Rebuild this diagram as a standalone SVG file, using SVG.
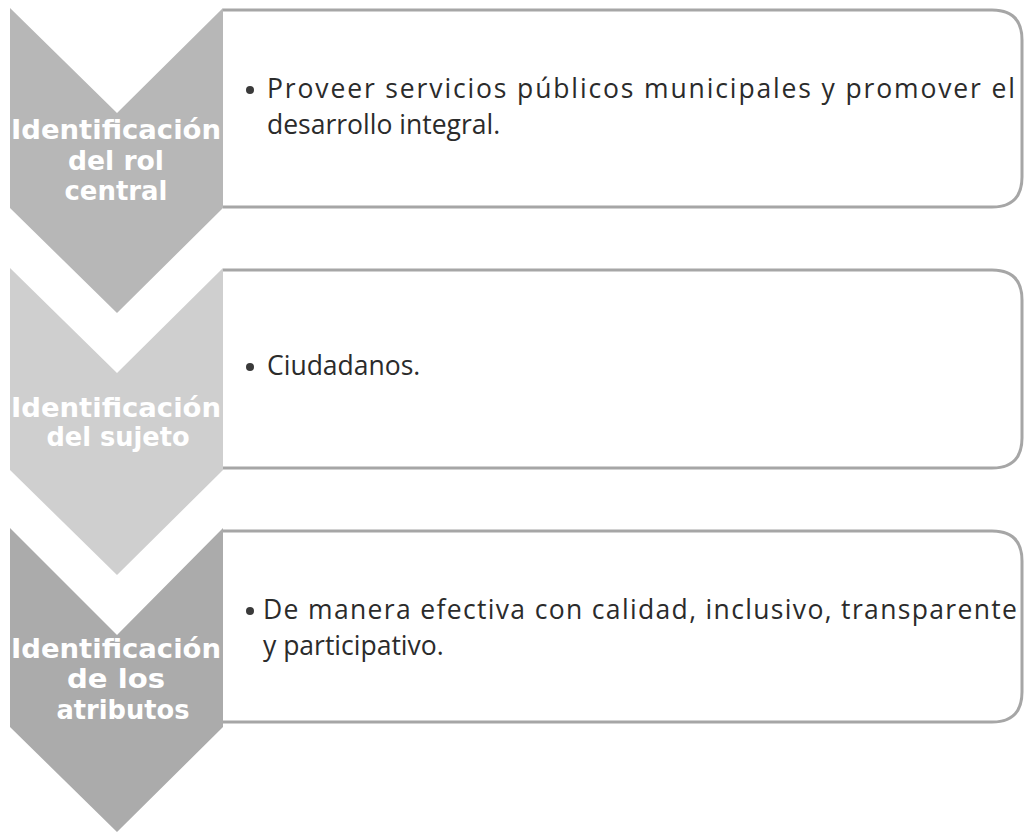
<svg xmlns="http://www.w3.org/2000/svg" width="1026" height="838" viewBox="0 0 1026 838">
  <style>
    .box { fill: #ffffff; stroke: #a6a6a6; stroke-width: 3; }
    .lbl { font-family: "DejaVu Sans", "Liberation Sans", sans-serif; font-weight: bold; font-size: 26px; fill: #ffffff; text-anchor: middle; }
    .txt { font-family: "Open Sans", "Noto Sans", sans-serif; font-size: 26.5px; fill: #2b2b2b; }
    .dot { fill: #3a3a3a; }
  </style>
  <rect width="1026" height="838" fill="#ffffff"/>

  <g id="node1">
    <path class="box" d="M 223 10 L 992 10 Q 1022 10 1022 40 L 1022 177 Q 1022 207 992 207 L 223 207"/>
    <path d="M 10 8 L 117 113 L 223 8 L 223 208 L 117 313 L 10 208 Z" fill="#b7b7b7"/>
    <text class="lbl" x="116" y="139" textLength="210" lengthAdjust="spacingAndGlyphs">Identificación</text>
    <text class="lbl" x="116" y="170" textLength="96" lengthAdjust="spacingAndGlyphs">del rol</text>
    <text class="lbl" x="116" y="200" textLength="103" lengthAdjust="spacingAndGlyphs">central</text>
    <circle class="dot" cx="250" cy="90" r="4"/>
    <text class="txt" x="267" y="98" textLength="748" lengthAdjust="spacing">Proveer servicios públicos municipales y promover el</text>
    <text class="txt" x="267" y="134">desarrollo integral.</text>
  </g>

  <g id="node2">
    <path class="box" d="M 223 270 L 992 270 Q 1022 270 1022 300 L 1022 438 Q 1022 468 992 468 L 223 468"/>
    <path d="M 10 268 L 117 373 L 223 268 L 223 470 L 117 575 L 10 470 Z" fill="#cfcfcf"/>
    <text class="lbl" x="116" y="417" textLength="210" lengthAdjust="spacingAndGlyphs">Identificación</text>
    <text class="lbl" x="118" y="446" textLength="143" lengthAdjust="spacingAndGlyphs">del sujeto</text>
    <circle class="dot" cx="250" cy="367" r="4"/>
    <text class="txt" x="267" y="375">Ciudadanos.</text>
  </g>

  <g id="node3">
    <path class="box" d="M 223 531 L 992 531 Q 1022 531 1022 561 L 1022 692 Q 1022 722 992 722 L 223 722"/>
    <path d="M 10 528 L 117 635 L 223 528 L 223 727 L 117 832 L 10 727 Z" fill="#ababab"/>
    <text class="lbl" x="116" y="658" textLength="210" lengthAdjust="spacingAndGlyphs">Identificación</text>
    <text class="lbl" x="116" y="688" textLength="98" lengthAdjust="spacingAndGlyphs">de los</text>
    <text class="lbl" x="123" y="719" textLength="133" lengthAdjust="spacingAndGlyphs">atributos</text>
    <circle class="dot" cx="250" cy="611" r="4"/>
    <text class="txt" x="263" y="619" textLength="754" lengthAdjust="spacing">De manera efectiva con calidad, inclusivo, transparente</text>
    <text class="txt" x="263" y="655">y participativo.</text>
  </g>

  <g id="connectors"></g>
</svg>
